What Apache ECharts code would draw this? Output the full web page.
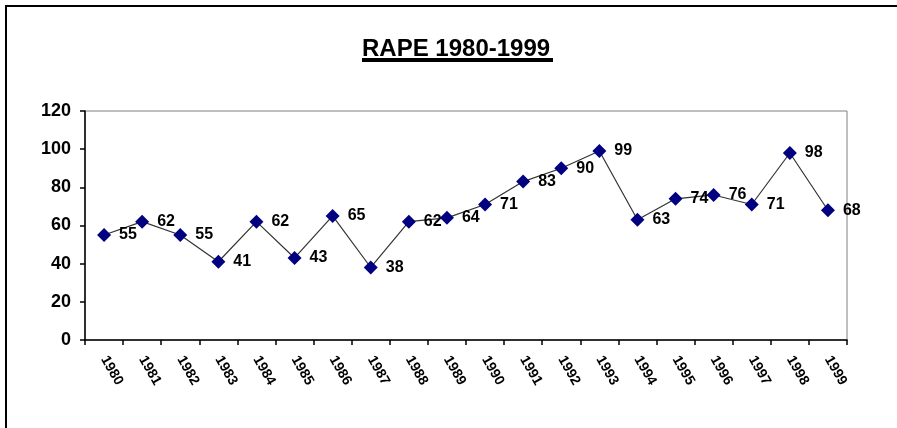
<!DOCTYPE html>
<html>
<head>
<meta charset="utf-8">
<script src="https://cdn.jsdelivr.net/npm/echarts@6/dist/echarts.min.js"></script>
<style>
html,body{margin:0;padding:0;background:#fff;}
#chart{width:897px;height:428px;}
</style>
</head>
<body>
<div id="chart"></div>
<script>
const titleText = "RAPE 1980-1999";
const years = ["1980","1981","1982","1983","1984","1985","1986","1987","1988","1989","1990","1991","1992","1993","1994","1995","1996","1997","1998","1999"];
const values = [55,62,55,41,62,43,65,38,62,64,71,83,90,99,63,74,76,71,98,68];
const yTicks = [0,20,40,60,80,100,120];

const chart = echarts.init(document.getElementById('chart'), null, {renderer:'canvas'});
const font = 'Arial, "Liberation Sans", sans-serif';
chart.setOption({
  animation:false,
  backgroundColor:'#ffffff',
  title:{
    text:titleText, left:362, top:37, padding:0,
    textStyle:{fontFamily:font, fontWeight:'bold', fontSize:24, color:'#000'}
  },
  graphic:[
    {type:'line', shape:{x1:362, y1:60, x2:553, y2:60}, style:{stroke:'#000', lineWidth:4}},
    {type:'line', shape:{x1:6, y1:5, x2:6, y2:440}, style:{stroke:'#000', lineWidth:2}},
    {type:'line', shape:{x1:5, y1:6, x2:900, y2:6}, style:{stroke:'#000', lineWidth:2}}
  ],
  grid:{left:85, right:50, top:111, bottom:88, show:true, borderColor:'#808080', borderWidth:1, backgroundColor:'transparent'},
  xAxis:{
    type:'category', data:years, boundaryGap:true,
    axisLine:{lineStyle:{color:'#000', width:1.5}},
    axisTick:{show:true, length:5, alignWithLabel:false, lineStyle:{color:'#000', width:1.5}},
    axisLabel:{rotate:-60, margin:17, fontFamily:font, fontWeight:'bold', fontSize:14, color:'#000', interval:0},
    splitLine:{show:false}
  },
  yAxis:{
    type:'value', min:yTicks[0], max:yTicks[yTicks.length-1], interval:20,
    axisLine:{show:true, lineStyle:{color:'#000', width:1.5}},
    axisTick:{show:true, length:5, lineStyle:{color:'#000', width:1.5}},
    axisLabel:{margin:14, fontFamily:font, fontWeight:'bold', fontSize:18, color:'#000'},
    splitLine:{show:false}
  },
  series:[{
    type:'line', data:values,
    symbol:'diamond', symbolSize:14,
    itemStyle:{color:'#000080'},
    lineStyle:{color:'#333333', width:1.2},
    label:{show:true, position:'right', distance:8, fontFamily:font, fontWeight:'bold', fontSize:16, color:'#000'}
  }]
});
</script>
</body>
</html>
